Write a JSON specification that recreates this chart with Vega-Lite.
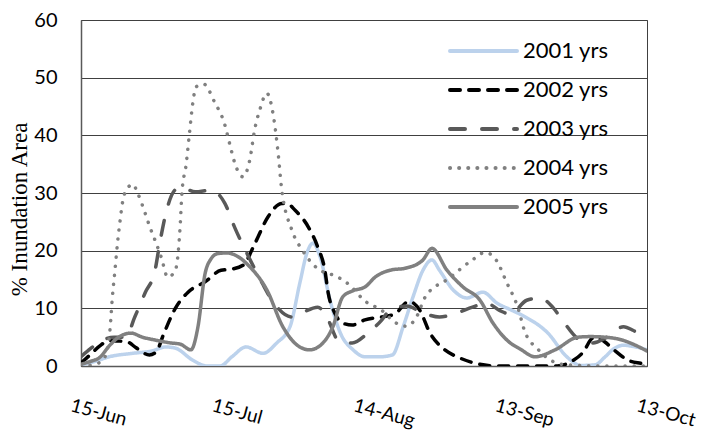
{
  "$schema": "https://vega.github.io/schema/vega-lite/v6.json",
  "width": 566,
  "height": 346,
  "autosize": "none",
  "padding": {"left": 81, "top": 20, "right": 58, "bottom": 71},
  "background": "white",
  "config": {
    "view": {"stroke": "#404040", "strokeWidth": 1}
  },
  "data": {"values": [
    {"series": "2001 yrs", "day": 0, "value": 0.2}, {"series": "2001 yrs", "day": 3, "value": 0.8}, {"series": "2001 yrs", "day": 6, "value": 1.6}, {"series": "2001 yrs", "day": 11, "value": 2.2}, {"series": "2001 yrs", "day": 15, "value": 2.6}, {"series": "2001 yrs", "day": 18, "value": 3.3}, {"series": "2001 yrs", "day": 20, "value": 3.1}, {"series": "2001 yrs", "day": 23.7, "value": 1}, {"series": "2001 yrs", "day": 26.7, "value": 0}, {"series": "2001 yrs", "day": 29.5, "value": 0}, {"series": "2001 yrs", "day": 32, "value": 1.6}, {"series": "2001 yrs", "day": 35, "value": 3.3}, {"series": "2001 yrs", "day": 38.6, "value": 2.2}, {"series": "2001 yrs", "day": 41.5, "value": 4}, {"series": "2001 yrs", "day": 44.3, "value": 6.8}, {"series": "2001 yrs", "day": 46.4, "value": 14.4}, {"series": "2001 yrs", "day": 47.9, "value": 19.6}, {"series": "2001 yrs", "day": 49.2, "value": 21.3}, {"series": "2001 yrs", "day": 50.7, "value": 18.9}, {"series": "2001 yrs", "day": 52.8, "value": 11.4}, {"series": "2001 yrs", "day": 55, "value": 5.7}, {"series": "2001 yrs", "day": 57.7, "value": 2.8}, {"series": "2001 yrs", "day": 60.2, "value": 1.6}, {"series": "2001 yrs", "day": 63.4, "value": 1.6}, {"series": "2001 yrs", "day": 66, "value": 1.9}, {"series": "2001 yrs", "day": 68.3, "value": 6.8}, {"series": "2001 yrs", "day": 70.4, "value": 12}, {"series": "2001 yrs", "day": 72.5, "value": 16.6}, {"series": "2001 yrs", "day": 74.4, "value": 18.4}, {"series": "2001 yrs", "day": 76, "value": 16.6}, {"series": "2001 yrs", "day": 78.9, "value": 13.2}, {"series": "2001 yrs", "day": 81.8, "value": 11.8}, {"series": "2001 yrs", "day": 85.2, "value": 12.8}, {"series": "2001 yrs", "day": 88.2, "value": 10.9}, {"series": "2001 yrs", "day": 91.5, "value": 9.6}, {"series": "2001 yrs", "day": 94, "value": 8.6}, {"series": "2001 yrs", "day": 99, "value": 5.7}, {"series": "2001 yrs", "day": 103, "value": 1.6}, {"series": "2001 yrs", "day": 106, "value": 0.1}, {"series": "2001 yrs", "day": 109, "value": 0.2}, {"series": "2001 yrs", "day": 111, "value": 1.5}, {"series": "2001 yrs", "day": 113, "value": 3}, {"series": "2001 yrs", "day": 115, "value": 3.6}, {"series": "2001 yrs", "day": 117, "value": 3.4}, {"series": "2001 yrs", "day": 120, "value": 2.8},
    {"series": "2002 yrs", "day": 0, "value": 0.5}, {"series": "2002 yrs", "day": 2, "value": 2}, {"series": "2002 yrs", "day": 4, "value": 3.5}, {"series": "2002 yrs", "day": 6, "value": 4.4}, {"series": "2002 yrs", "day": 9.7, "value": 4.2}, {"series": "2002 yrs", "day": 11.8, "value": 3.1}, {"series": "2002 yrs", "day": 14.5, "value": 1.9}, {"series": "2002 yrs", "day": 16, "value": 2.5}, {"series": "2002 yrs", "day": 17.5, "value": 5.5}, {"series": "2002 yrs", "day": 20, "value": 10}, {"series": "2002 yrs", "day": 22.7, "value": 12.8}, {"series": "2002 yrs", "day": 26.3, "value": 14.6}, {"series": "2002 yrs", "day": 29.7, "value": 16.6}, {"series": "2002 yrs", "day": 32, "value": 16.8}, {"series": "2002 yrs", "day": 34.4, "value": 17.5}, {"series": "2002 yrs", "day": 36.9, "value": 21.3}, {"series": "2002 yrs", "day": 39.6, "value": 25.8}, {"series": "2002 yrs", "day": 42.6, "value": 28.2}, {"series": "2002 yrs", "day": 43.6, "value": 28.2}, {"series": "2002 yrs", "day": 45.4, "value": 27}, {"series": "2002 yrs", "day": 48.2, "value": 24.1}, {"series": "2002 yrs", "day": 50.2, "value": 20.6}, {"series": "2002 yrs", "day": 51.7, "value": 16.6}, {"series": "2002 yrs", "day": 52.4, "value": 12.7}, {"series": "2002 yrs", "day": 53.8, "value": 9.2}, {"series": "2002 yrs", "day": 55.3, "value": 7.5}, {"series": "2002 yrs", "day": 57.5, "value": 7.1}, {"series": "2002 yrs", "day": 60.2, "value": 8}, {"series": "2002 yrs", "day": 63.8, "value": 8.5}, {"series": "2002 yrs", "day": 66.5, "value": 9}, {"series": "2002 yrs", "day": 69.5, "value": 11.2}, {"series": "2002 yrs", "day": 71.8, "value": 9.7}, {"series": "2002 yrs", "day": 74, "value": 5.7}, {"series": "2002 yrs", "day": 76.7, "value": 3.1}, {"series": "2002 yrs", "day": 80.3, "value": 1.4}, {"series": "2002 yrs", "day": 84, "value": 0.4}, {"series": "2002 yrs", "day": 88, "value": 0}, {"series": "2002 yrs", "day": 95, "value": 0}, {"series": "2002 yrs", "day": 101, "value": 0}, {"series": "2002 yrs", "day": 104, "value": 0.8}, {"series": "2002 yrs", "day": 106.8, "value": 2.8}, {"series": "2002 yrs", "day": 108, "value": 4.5}, {"series": "2002 yrs", "day": 109, "value": 5}, {"series": "2002 yrs", "day": 111, "value": 4.2}, {"series": "2002 yrs", "day": 113, "value": 2.8}, {"series": "2002 yrs", "day": 116, "value": 1}, {"series": "2002 yrs", "day": 119, "value": 0.4}, {"series": "2002 yrs", "day": 120, "value": 0.2},
    {"series": "2003 yrs", "day": 0, "value": 1.6}, {"series": "2003 yrs", "day": 2, "value": 3}, {"series": "2003 yrs", "day": 4, "value": 4.2}, {"series": "2003 yrs", "day": 7, "value": 5}, {"series": "2003 yrs", "day": 9.5, "value": 5}, {"series": "2003 yrs", "day": 11.4, "value": 8.5}, {"series": "2003 yrs", "day": 13.6, "value": 12.7}, {"series": "2003 yrs", "day": 15.7, "value": 16.6}, {"series": "2003 yrs", "day": 16.7, "value": 21.3}, {"series": "2003 yrs", "day": 18, "value": 26.5}, {"series": "2003 yrs", "day": 19.9, "value": 30.5}, {"series": "2003 yrs", "day": 21.2, "value": 31}, {"series": "2003 yrs", "day": 24.2, "value": 30.2}, {"series": "2003 yrs", "day": 27.6, "value": 30.5}, {"series": "2003 yrs", "day": 30.5, "value": 28.2}, {"series": "2003 yrs", "day": 32.6, "value": 24}, {"series": "2003 yrs", "day": 35.5, "value": 19}, {"series": "2003 yrs", "day": 38.4, "value": 14.4}, {"series": "2003 yrs", "day": 40.5, "value": 11.4}, {"series": "2003 yrs", "day": 44.7, "value": 8.5}, {"series": "2003 yrs", "day": 46.8, "value": 9.2}, {"series": "2003 yrs", "day": 50.2, "value": 10.2}, {"series": "2003 yrs", "day": 52.4, "value": 8}, {"series": "2003 yrs", "day": 54.5, "value": 4.5}, {"series": "2003 yrs", "day": 57.5, "value": 4}, {"series": "2003 yrs", "day": 60.8, "value": 5.7}, {"series": "2003 yrs", "day": 63.8, "value": 8}, {"series": "2003 yrs", "day": 65.5, "value": 9.7}, {"series": "2003 yrs", "day": 69, "value": 10.4}, {"series": "2003 yrs", "day": 72.5, "value": 9.2}, {"series": "2003 yrs", "day": 76, "value": 8.5}, {"series": "2003 yrs", "day": 79.7, "value": 9.2}, {"series": "2003 yrs", "day": 83, "value": 10.2}, {"series": "2003 yrs", "day": 86, "value": 10.9}, {"series": "2003 yrs", "day": 88.8, "value": 9.6}, {"series": "2003 yrs", "day": 91, "value": 9}, {"series": "2003 yrs", "day": 94.5, "value": 11.4}, {"series": "2003 yrs", "day": 97.3, "value": 11.8}, {"series": "2003 yrs", "day": 100, "value": 10.2}, {"series": "2003 yrs", "day": 102, "value": 8}, {"series": "2003 yrs", "day": 105.8, "value": 4.5}, {"series": "2003 yrs", "day": 108.5, "value": 4}, {"series": "2003 yrs", "day": 111.5, "value": 5}, {"series": "2003 yrs", "day": 115, "value": 6.8}, {"series": "2003 yrs", "day": 117, "value": 6.2}, {"series": "2003 yrs", "day": 120, "value": 4.5},
    {"series": "2004 yrs", "day": 0, "value": 0}, {"series": "2004 yrs", "day": 3, "value": 0.3}, {"series": "2004 yrs", "day": 4.5, "value": 1}, {"series": "2004 yrs", "day": 5.5, "value": 2.5}, {"series": "2004 yrs", "day": 6.2, "value": 6.8}, {"series": "2004 yrs", "day": 6.6, "value": 11.4}, {"series": "2004 yrs", "day": 7.2, "value": 16.6}, {"series": "2004 yrs", "day": 7.8, "value": 21.8}, {"series": "2004 yrs", "day": 8.3, "value": 25.3}, {"series": "2004 yrs", "day": 8.9, "value": 28.8}, {"series": "2004 yrs", "day": 10, "value": 31}, {"series": "2004 yrs", "day": 11, "value": 31.5}, {"series": "2004 yrs", "day": 12, "value": 30}, {"series": "2004 yrs", "day": 13.6, "value": 26.5}, {"series": "2004 yrs", "day": 14.6, "value": 24.1}, {"series": "2004 yrs", "day": 15.7, "value": 21.8}, {"series": "2004 yrs", "day": 17, "value": 18.9}, {"series": "2004 yrs", "day": 18.4, "value": 15.4}, {"series": "2004 yrs", "day": 20, "value": 16.6}, {"series": "2004 yrs", "day": 20.6, "value": 19.6}, {"series": "2004 yrs", "day": 21, "value": 24}, {"series": "2004 yrs", "day": 21.4, "value": 30}, {"series": "2004 yrs", "day": 22.3, "value": 35}, {"series": "2004 yrs", "day": 23, "value": 40.4}, {"series": "2004 yrs", "day": 23.7, "value": 45.6}, {"series": "2004 yrs", "day": 24.4, "value": 48.4}, {"series": "2004 yrs", "day": 26, "value": 48.9}, {"series": "2004 yrs", "day": 28.3, "value": 45.8}, {"series": "2004 yrs", "day": 30.5, "value": 41.8}, {"series": "2004 yrs", "day": 31.5, "value": 38.6}, {"series": "2004 yrs", "day": 32.6, "value": 35.2}, {"series": "2004 yrs", "day": 34.3, "value": 32.8}, {"series": "2004 yrs", "day": 35.8, "value": 35.8}, {"series": "2004 yrs", "day": 36.8, "value": 40.9}, {"series": "2004 yrs", "day": 37.9, "value": 44.4}, {"series": "2004 yrs", "day": 39.4, "value": 47.3}, {"series": "2004 yrs", "day": 40.7, "value": 43.8}, {"series": "2004 yrs", "day": 41.8, "value": 36.9}, {"series": "2004 yrs", "day": 42.5, "value": 31}, {"series": "2004 yrs", "day": 44.7, "value": 23.6}, {"series": "2004 yrs", "day": 47, "value": 20}, {"series": "2004 yrs", "day": 50, "value": 17}, {"series": "2004 yrs", "day": 54.5, "value": 15.4}, {"series": "2004 yrs", "day": 57, "value": 14}, {"series": "2004 yrs", "day": 60, "value": 11.4}, {"series": "2004 yrs", "day": 64, "value": 9.5}, {"series": "2004 yrs", "day": 66.5, "value": 7.6}, {"series": "2004 yrs", "day": 69, "value": 6.9}, {"series": "2004 yrs", "day": 71, "value": 8.3}, {"series": "2004 yrs", "day": 73, "value": 12}, {"series": "2004 yrs", "day": 78, "value": 15.2}, {"series": "2004 yrs", "day": 83, "value": 18.4}, {"series": "2004 yrs", "day": 85.7, "value": 19.7}, {"series": "2004 yrs", "day": 88, "value": 18.4}, {"series": "2004 yrs", "day": 90.3, "value": 14.4}, {"series": "2004 yrs", "day": 92.6, "value": 10.2}, {"series": "2004 yrs", "day": 94, "value": 6.2}, {"series": "2004 yrs", "day": 97, "value": 2.8}, {"series": "2004 yrs", "day": 100, "value": 0.8}, {"series": "2004 yrs", "day": 103, "value": 0.2}, {"series": "2004 yrs", "day": 110, "value": 0}, {"series": "2004 yrs", "day": 120, "value": 0},
    {"series": "2005 yrs", "day": 0, "value": 0.3}, {"series": "2005 yrs", "day": 2, "value": 0.8}, {"series": "2005 yrs", "day": 4, "value": 1.5}, {"series": "2005 yrs", "day": 6, "value": 3.5}, {"series": "2005 yrs", "day": 8, "value": 5}, {"series": "2005 yrs", "day": 10.6, "value": 5.7}, {"series": "2005 yrs", "day": 13, "value": 5}, {"series": "2005 yrs", "day": 15.7, "value": 4.5}, {"series": "2005 yrs", "day": 19, "value": 4}, {"series": "2005 yrs", "day": 21, "value": 3.8}, {"series": "2005 yrs", "day": 23.3, "value": 2.8}, {"series": "2005 yrs", "day": 24.8, "value": 6.8}, {"series": "2005 yrs", "day": 26.3, "value": 16}, {"series": "2005 yrs", "day": 27.5, "value": 18.5}, {"series": "2005 yrs", "day": 29, "value": 19.5}, {"series": "2005 yrs", "day": 31, "value": 19.6}, {"series": "2005 yrs", "day": 32.5, "value": 19.3}, {"series": "2005 yrs", "day": 35.8, "value": 17.2}, {"series": "2005 yrs", "day": 39.4, "value": 13.2}, {"series": "2005 yrs", "day": 42.8, "value": 6.8}, {"series": "2005 yrs", "day": 46.4, "value": 3.3}, {"series": "2005 yrs", "day": 48.5, "value": 2.8}, {"series": "2005 yrs", "day": 51.3, "value": 4}, {"series": "2005 yrs", "day": 53.4, "value": 6.8}, {"series": "2005 yrs", "day": 55.5, "value": 12}, {"series": "2005 yrs", "day": 57.5, "value": 13}, {"series": "2005 yrs", "day": 60.2, "value": 13.7}, {"series": "2005 yrs", "day": 62.5, "value": 15.5}, {"series": "2005 yrs", "day": 65.5, "value": 16.6}, {"series": "2005 yrs", "day": 69, "value": 17}, {"series": "2005 yrs", "day": 72.5, "value": 18.4}, {"series": "2005 yrs", "day": 74.4, "value": 20.4}, {"series": "2005 yrs", "day": 77.6, "value": 16.6}, {"series": "2005 yrs", "day": 81, "value": 13.7}, {"series": "2005 yrs", "day": 84.6, "value": 11.4}, {"series": "2005 yrs", "day": 87.3, "value": 7.5}, {"series": "2005 yrs", "day": 91, "value": 4}, {"series": "2005 yrs", "day": 93, "value": 3}, {"series": "2005 yrs", "day": 96.3, "value": 1.6}, {"series": "2005 yrs", "day": 100.5, "value": 2.8}, {"series": "2005 yrs", "day": 105.4, "value": 5}, {"series": "2005 yrs", "day": 108, "value": 5.1}, {"series": "2005 yrs", "day": 111, "value": 5}, {"series": "2005 yrs", "day": 114.7, "value": 4.5}, {"series": "2005 yrs", "day": 117, "value": 3.8}, {"series": "2005 yrs", "day": 120, "value": 2.6}
  ]},
  "mark": {"type": "line", "interpolate": "monotone", "strokeWidth": 3.5, "strokeCap": "round", "clip": true},
  "encoding": {
    "x": {
      "field": "day", "type": "quantitative",
      "scale": {"domain": [0, 120], "nice": false, "zero": false},
      "axis": {
        "title": null, "values": [0, 30, 60, 90, 120], "grid": false, "ticks": false,
        "labelExpr": "datum.value == 0 ? '15-Jun' : datum.value == 30 ? '15-Jul' : datum.value == 60 ? '14-Aug' : datum.value == 90 ? '13-Sep' : '13-Oct'",
        "labelAngle": 15, "labelAlign": "left", "labelBaseline": "top", "labelPadding": 30,
        "labelOffset": -8,
        "labelFont": "Lato", "labelFontSize": 19, "labelColor": "#000",
        "labelFlush": false, "labelOverlap": false, "labelBound": false,
        "domainColor": "#595959", "domainWidth": 1.5
      }
    },
    "y": {
      "field": "value", "type": "quantitative",
      "scale": {"domain": [0, 60], "nice": false},
      "axis": {
        "title": "% Inundation Area", "values": [0, 10, 20, 30, 40, 50, 60],
        "grid": true, "gridColor": "#404040", "gridWidth": 1, "gridOpacity": 1,
        "ticks": false, "labelPadding": 24,
        "labelFont": "Lato", "labelFontSize": 20, "labelColor": "#000",
        "titleFont": "Liberation Serif", "titleFontSize": 23, "titleFontWeight": "normal", "titleColor": "#000",
        "titleX": -50, "titleY": 189,
        "domainColor": "#595959", "domainWidth": 1.5
      }
    },
    "color": {
      "field": "series", "type": "nominal",
      "scale": {
        "domain": ["2001 yrs", "2002 yrs", "2003 yrs", "2004 yrs", "2005 yrs"],
        "range": ["#bcd2ec", "#000000", "#595959", "#808080", "#808080"]
      },
      "legend": {
        "title": null, "orient": "none", "legendX": 358, "legendY": 20,
        "symbolType": "M0,0H67", "symbolSize": 4, "symbolStrokeWidth": 4,
        "labelFont": "Lato", "labelFontSize": 22, "labelColor": "#000", "labelOffset": 62,
        "rowPadding": 17, "padding": 0,
        "encode": {"symbols": {"update": {"strokeCap": {"value": "round"}, "fill": {"value": "transparent"}}}}
      }
    },
    "strokeDash": {
      "field": "series", "type": "nominal",
      "scale": {
        "domain": ["2001 yrs", "2002 yrs", "2003 yrs", "2004 yrs", "2005 yrs"],
        "range": [[1, 0], [10, 9], [15, 17], [0.1, 9], [1, 0]]
      },
      "legend": null
    }
  }
}
